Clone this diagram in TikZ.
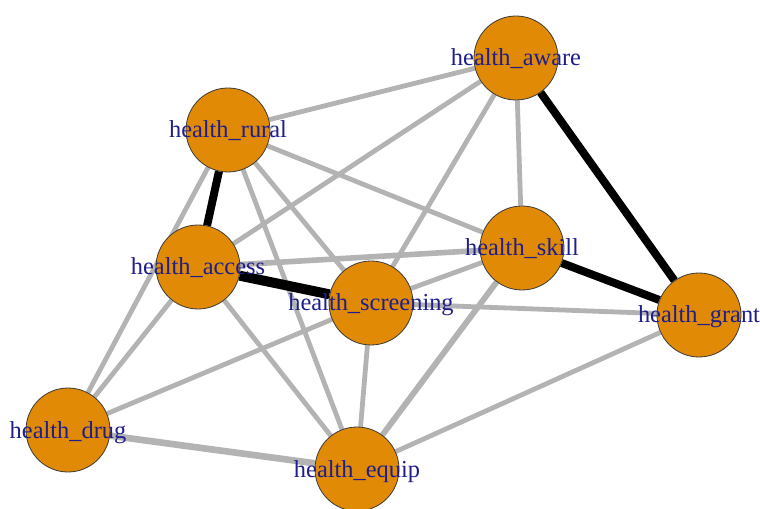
\documentclass[tikz,border=0pt]{standalone}
\usepackage{fontspec}
\setmainfont{Liberation Serif}
\usepackage{xcolor}
\usetikzlibrary{backgrounds}
\definecolor{nodeorange}{HTML}{E08A05}
\definecolor{edgegray}{HTML}{B3B3B3}
\definecolor{labelblue}{HTML}{1E1E8C}
\definecolor{rimgray}{HTML}{3A3A3A}
\newcommand{\vlabel}[1]{\makebox[0pt]{\raisebox{-6pt}[0pt][0pt]{\textcolor{labelblue}{#1}}}}

\begin{document}
\begin{tikzpicture}[
  x=0.75pt, y=-0.75pt,
  font=\fontsize{18.3pt}{20pt}\selectfont,
  vertex/.style={circle, draw=rimgray, line width=0.6pt, fill=nodeorange, minimum size=63pt, inner sep=0pt},
  weak/.style={draw=edgegray, line width=3.6pt},
  strong/.style={draw=black, line width=6pt}
]
\useasboundingbox (0,0) rectangle (760,509);

\node[vertex] (aware) at (516,58) {\vlabel{health\_aware}};
\node[vertex] (rural) at (228,130) {\vlabel{health\_rural}};
\node[vertex] (access) at (198,267) {\vlabel{health\_access}};
\node[vertex] (screen) at (371,303) {\vlabel{health\_screening}};
\node[vertex] (skill) at (522,248) {\vlabel{health\_skill}};
\node[vertex] (grant) at (699,315) {\vlabel{health\_grant}};
\node[vertex] (drug) at (68,430) {\vlabel{health\_drug}};
\node[vertex] (equip) at (357,469) {\vlabel{health\_equip}};

\begin{scope}[on background layer]
% weak ties
\draw[weak] (aware) -- (rural);
\draw[weak] (aware) -- (access);
\draw[weak] (aware) -- (screen);
\draw[weak] (aware) -- (skill);
\draw[weak] (rural) -- (skill);
\draw[weak] (rural) -- (screen);
\draw[weak] (rural) -- (equip);
\draw[weak] (rural) -- (drug);
\draw[weak, line width=4.2pt] (access) -- (skill);
\draw[weak] (access) -- (drug);
\draw[weak] (access) -- (equip);
\draw[weak] (screen) -- (skill);
\draw[weak] (screen) -- (grant);
\draw[weak] (screen) -- (drug);
\draw[weak] (screen) -- (equip);
\draw[weak, line width=4.4pt] (skill) -- (equip);
\draw[weak] (grant) -- (equip);
\draw[weak, line width=5pt] (drug) -- (equip);
% strong ties
\draw[strong] (aware) -- (grant);
\draw[strong] (rural) -- (access);
\draw[strong, line width=7.5pt] (access) -- (screen);
\draw[strong] (skill) -- (grant);
\end{scope}
\end{tikzpicture}
\end{document}
